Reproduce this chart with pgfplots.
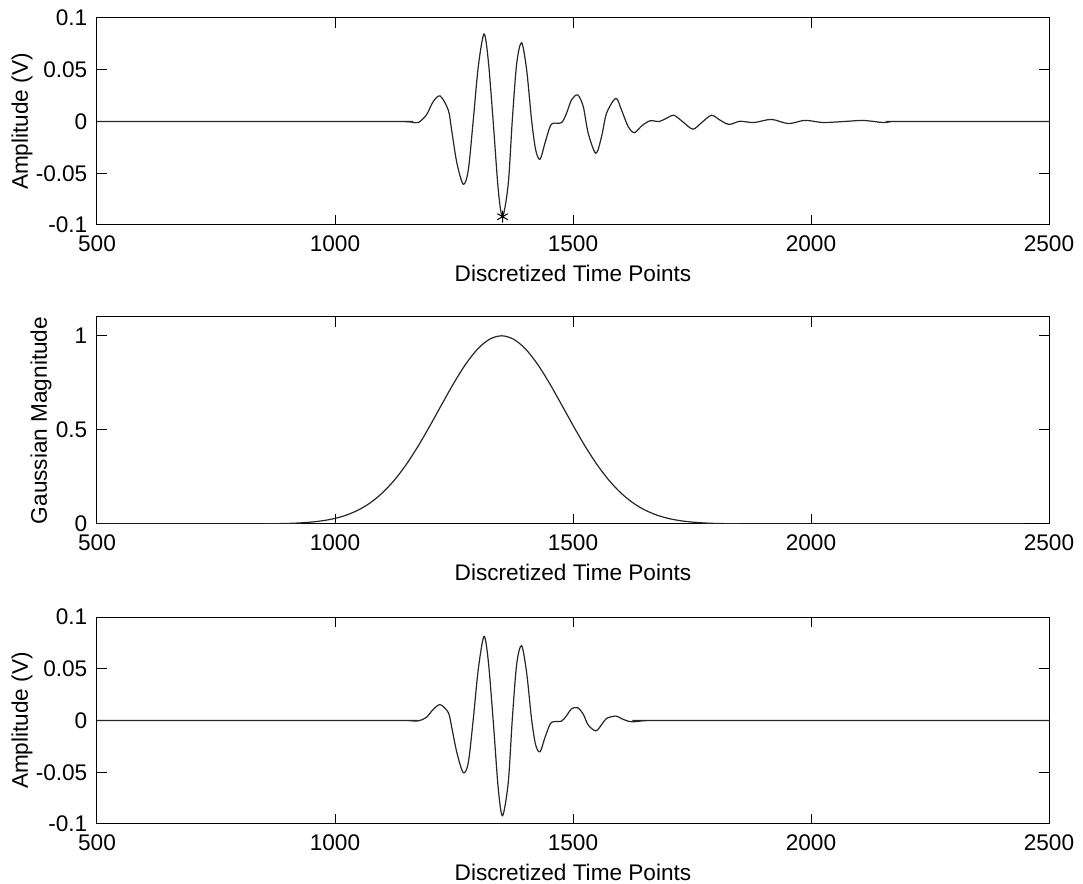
\documentclass[border=0pt]{standalone}
\usepackage{fontspec}
\setmainfont{Liberation Sans}
\usepackage{pgfplots}
\pgfplotsset{compat=1.18}
\begin{document}
\fontsize{11.3}{13.5}\selectfont
\begin{tikzpicture}[x=1pt,y=1pt]
\path[use as bounding box] (0,0) rectangle (541.5,442);
\pgfplotsset{
  mstyle/.style={
    scale only axis, width=476pt, height=103.5pt, anchor=south west,
    xmin=500, xmax=2500, xtick={500,1000,1500,2000,2500},
    xticklabels={500,1000,1500,2000,2500},
    tick align=inside, tick pos=both, xticklabel pos=left, yticklabel pos=left,
    major tick length=5pt,
    every tick/.style={black, line width=0.5pt},
    axis line style={black, line width=0.5pt},
    scaled ticks=false,
    every tick label/.append style={font=\fontsize{11.3}{13.5}\selectfont},
    xticklabel style={anchor=base, yshift=-13.5pt},
    yticklabel style={anchor=east, xshift=-0.9pt},
    xlabel={Discretized Time Points},
    every axis x label/.style={at={(axis description cs:0.5,0)}, anchor=base, yshift=-28.5pt, font=\fontsize{11.3}{13.5}\selectfont},
    every axis y label/.style={at={(axis description cs:-0.0788,0.5)}, rotate=90, anchor=center, font=\fontsize{11.3}{13.5}\selectfont},
  },
  sig/.style={black!85, line width=0.6pt, smooth, tension=0.5, no marks},
}
% top
\begin{axis}[mstyle, at={(48.5pt,329.5pt)}, ymin=-0.1, ymax=0.1,
  ytick={-0.1,-0.05,0,0.05,0.1}, yticklabels={-0.1,-0.05,0,0.05,0.1}, ylabel={Amplitude (V)}]
\addplot[sig] coordinates {
(500,0) (1120,0) (1140,0) (1160,-0.0005) (1175,-0.001) (1192,0.0063) (1206,0.019) (1221,0.0246)
(1238,0.011) (1245,-0.0082) (1256,-0.040) (1269.5,-0.0607) (1280,-0.047) (1290.5,0.0014)
(1301,0.053) (1313,0.0845) (1322,0.059) (1332.6,-0.0017) (1343,-0.066) (1352,-0.092)
(1364,-0.060) (1372.5,0.0014) (1381.7,0.056) (1392,0.0761) (1402.6,0.050) (1413,0.0014)
(1421.6,-0.0275) (1430.7,-0.0365) (1441,-0.021) (1451.7,-0.005) (1458.6,-0.0017) (1476,-0.001)
(1486.5,0.008) (1497,0.021) (1510,0.0256) (1521.6,0.0143) (1532,-0.0114) (1548,-0.0307)
(1560,-0.0147) (1570.5,0.008) (1590,0.0224) (1602,0.011) (1616,-0.005) (1629,-0.0108)
(1645,-0.004) (1662,0.0007) (1681,0) (1696,0.003) (1712,0.006) (1732,-0.0008) (1752,-0.0074)
(1771,-0.0008) (1791,0.006) (1810,0.001) (1828,-0.0028) (1851,0.0002) (1880,-0.001)
(1917,0.002) (1952,-0.002) (1984,0.001) (2001,0.0005) (2026,-0.001) (2070,0) (2110,0.001)
(2152,-0.001) (2170,0) (2190,0) (2500,0)
};
\addplot[only marks, mark=asterisk, mark size=3pt, black, line width=0.5pt] coordinates {(1352,-0.092)};
\end{axis}
% middle
\begin{axis}[mstyle, at={(48.5pt,180pt)}, ymin=0, ymax=1.1,
  ytick={0,0.5,1}, yticklabels={0,0.5,1}, ylabel={Gaussian Magnitude},
  every axis y label/.style={at={(axis description cs:-0.0588,0.5)}, rotate=90, anchor=center, font=\fontsize{11.3}{13.5}\selectfont}]
\addplot[sig] coordinates {
(500,0) (680,0) (700,0.00003) (750,0.00003) (800,0.00017) (850,0.00077) (900,0.0030) (925,0.0056)
(950,0.0101) (975,0.0177) (1000,0.0297) (1025,0.0483) (1050,0.0756) (1075,0.1142)
(1100,0.1664) (1125,0.2339) (1150,0.3173) (1175,0.4153) (1200,0.5243) (1225,0.6386)
(1250,0.7505) (1275,0.8509) (1300,0.9308) (1325,0.9822) (1350,1) (1375,0.9822)
(1400,0.9308) (1425,0.8509) (1450,0.7505) (1475,0.6386) (1500,0.5243) (1525,0.4153)
(1550,0.3173) (1575,0.2339) (1600,0.1664) (1625,0.1142) (1650,0.0756) (1675,0.0483)
(1700,0.0297) (1725,0.0177) (1750,0.0101) (1775,0.0056) (1800,0.0030) (1850,0.00077)
(1900,0.00017) (1950,0.00003) (2000,0) (2020,0) (2450,0)
};
\end{axis}
% bottom
\begin{axis}[mstyle, at={(48.5pt,30pt)}, ymin=-0.1, ymax=0.1,
  ytick={-0.1,-0.05,0,0.05,0.1}, yticklabels={-0.1,-0.05,0,0.05,0.1}, ylabel={Amplitude (V)}]
\addplot[sig] coordinates {
(500,0) (1130,0) (1150,0) (1175,-0.0004) (1192,0.0031) (1206,0.0105) (1221,0.0153) (1238,0.0077)
(1245,-0.0060) (1256,-0.0310) (1269.5,-0.0504) (1280,-0.0408) (1290.5,0.0013) (1301,0.0495)
(1313,0.0812) (1322,0.0577) (1332.6,-0.0017) (1343,-0.0659) (1352,-0.0920) (1364,-0.0597)
(1372.5,0.0014) (1381.7,0.0544) (1392,0.0723) (1402.6,0.0462) (1413,0.0012) (1421.6,-0.0237)
(1430.7,-0.0303) (1441,-0.0166) (1451.7,-0.0037) (1458.6,-0.0012) (1476,-0.0006) (1486.5,0.0047)
(1497,0.0113) (1510,0.0123) (1521.6,0.0061) (1532,-0.0044) (1548,-0.0100) (1560,-0.0041)
(1570.5,0.0020) (1590,0.0043) (1602,0.0018) (1616,-0.0007) (1629,-0.0012) (1645,-0.0004)
(1662,0) (1680,0) (2500,0)
};
\end{axis}
\end{tikzpicture}
\end{document}
